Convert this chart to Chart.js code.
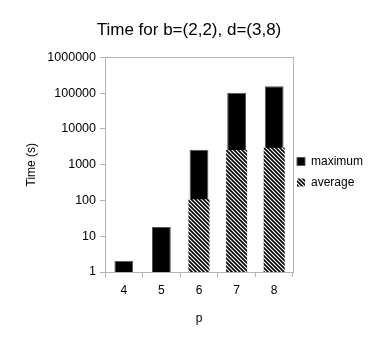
<!DOCTYPE html>
<html>
<head>
<meta charset="utf-8">
<script src="https://cdn.jsdelivr.net/npm/chart.js@4.4.0/dist/chart.umd.min.js"></script>
<style>
  html, body { margin: 0; padding: 0; background: #fff; }
  #wrap { width: 378px; height: 340px; }
</style>
</head>
<body>
<div id="wrap"><canvas id="chart"></canvas></div>
<script>
// data
const categories = ['4', '5', '6', '7', '8'];
const maximumTimes = [2.05, 18, 2600, 102000, 156000];
const averageTimes = [null, null, 108, 2560, 2960];
const yTickValues = [1, 10, 100, 1000, 10000, 100000, 1000000];

const FONT = 'Liberation Sans, Arial, sans-serif';
const AXIS_GRAY = '#b3b3b3';

// diagonal hatch for the "average" series
function makeHatch() {
    const c = document.createElement('canvas');
    c.width = 4;
    c.height = 4;
    const g = c.getContext('2d');
    g.fillStyle = '#fff';
    g.fillRect(0, 0, 4, 4);
    g.strokeStyle = '#000';
    g.lineWidth = 1.6;
    g.beginPath();
    g.moveTo(-1, -1); g.lineTo(5, 5);
    g.moveTo(-1, 3); g.lineTo(1, 5);
    g.moveTo(3, -1); g.lineTo(5, 1);
    g.stroke();
    return g.createPattern(c, 'repeat');
}

// box around the plot area
const frame = {
    id: 'frame',
    afterDraw(chart) {
        const { ctx, chartArea: a } = chart;
        ctx.save();
        ctx.strokeStyle = AXIS_GRAY;
        ctx.lineWidth = 1;
        ctx.strokeRect(Math.round(a.left) + 0.5, Math.round(a.top) + 0.5,
            Math.round(a.right - a.left), Math.round(a.bottom - a.top));
        ctx.restore();
    }
};

// pull the legend a little closer to the plot
const legendNudge = {
    id: 'legendNudge',
    afterLayout(chart) {
        const lg = chart.legend;
        lg.left -= 5; lg.right -= 5;
        lg.top -= 1; lg.bottom -= 1;
    }
};

const ctx = document.getElementById('chart').getContext('2d');
const hatch = makeHatch();

new Chart(ctx, {
    type: 'bar',
    data: {
        labels: categories,
        datasets: [
            {
                label: 'maximum',
                data: maximumTimes,
                backgroundColor: '#000',
                borderColor: '#555',
                borderWidth: 1,
                barPercentage: 0.5,
                categoryPercentage: 1,
                grouped: false,
                order: 2
            },
            {
                label: 'average',
                data: averageTimes,
                backgroundColor: hatch,
                borderWidth: 0,
                barPercentage: 0.56,
                categoryPercentage: 1,
                grouped: false,
                order: 1
            }
        ]
    },
    options: {
        responsive: true,
        maintainAspectRatio: false,
        animation: false,
        layout: { padding: { top: 20, right: 0, bottom: 14, left: 0 } },
        plugins: {
            title: {
                display: true,
                text: 'Time for b=(2,2), d=(3,8)',
                color: '#000',
                font: { family: FONT, size: 17, weight: 'normal' },
                padding: { top: 0, bottom: 17 }
            },
            legend: {
                position: 'right',
                labels: {
                    color: '#000',
                    font: { family: FONT, size: 12 },
                    boxWidth: 8,
                    boxHeight: 8,
                    padding: 9,
                    sort: (a, b) => a.datasetIndex - b.datasetIndex
                }
            },
            tooltip: { enabled: false }
        },
        scales: {
            x: {
                offset: true,
                grid: {
                    offset: true,
                    drawOnChartArea: false,
                    color: AXIS_GRAY,
                    tickLength: 5
                },
                border: { color: AXIS_GRAY },
                ticks: { color: '#000', font: { family: FONT, size: 12 }, padding: 6 },
                title: {
                    display: true,
                    text: 'p',
                    color: '#000',
                    font: { family: FONT, size: 12 },
                    padding: { top: 8, bottom: 0 }
                },
                afterFit(scale) { scale.height = 54; }
            },
            y: {
                type: 'logarithmic',
                min: 1,
                max: 1000000,
                grid: {
                    drawOnChartArea: false,
                    color: AXIS_GRAY,
                    tickLength: 5
                },
                border: { color: AXIS_GRAY },
                afterBuildTicks(scale) {
                    scale.ticks = yTickValues.map(v => ({ value: v }));
                },
                ticks: {
                    color: '#000',
                    font: { family: FONT, size: 12.5 },
                    padding: 4,
                    callback: v => String(v)
                },
                title: {
                    display: true,
                    text: 'Time (s)',
                    color: '#000',
                    font: { family: FONT, size: 12 },
                    padding: { top: 24, bottom: 0 }
                },
                afterFit(scale) { scale.width = 105; }
            }
        }
    },
    plugins: [frame, legendNudge]
});
</script>
</body>
</html>
